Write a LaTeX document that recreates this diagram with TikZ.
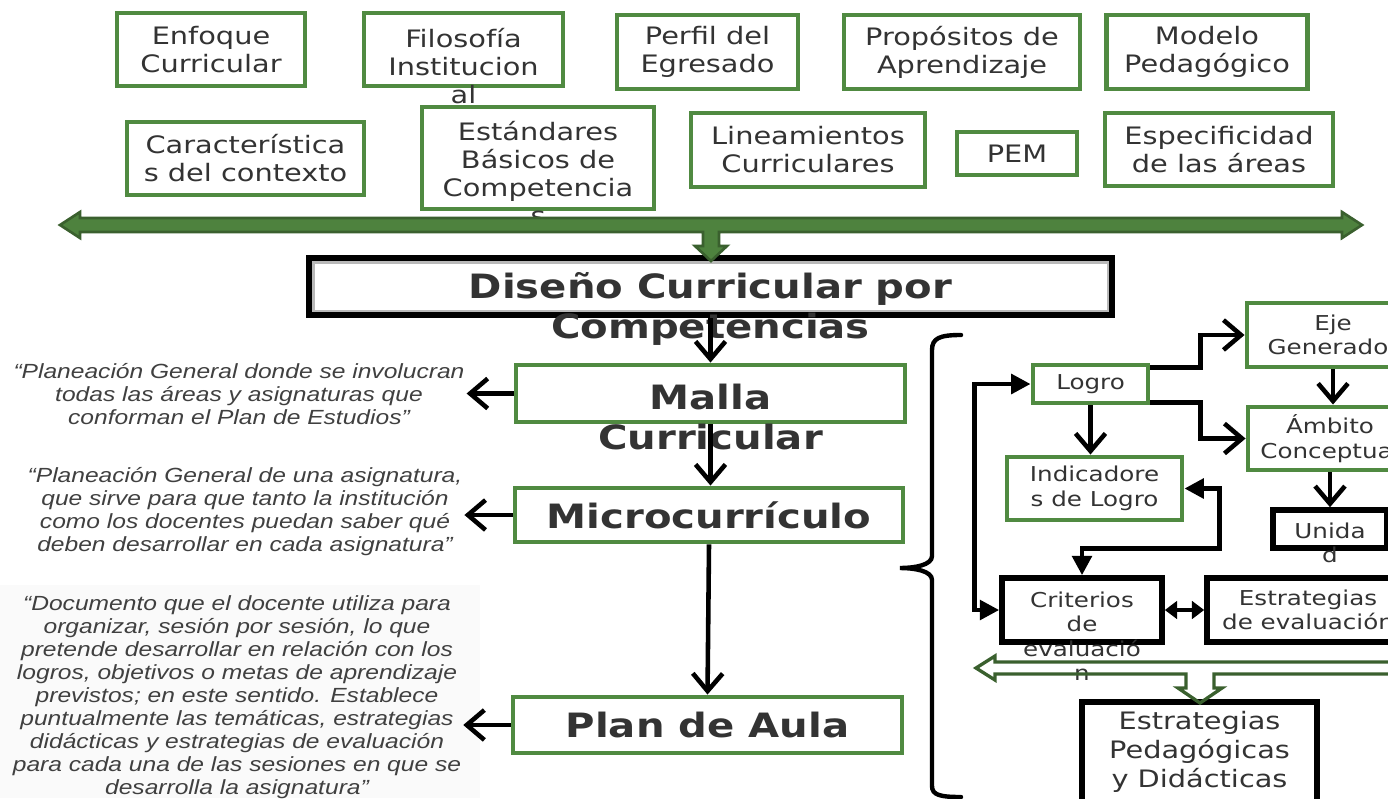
\documentclass[tikz,border=0pt]{standalone}
\usepackage{fontspec}
\setmainfont[FakeStretch=1.2]{DejaVu Sans}
\newfontfamily\quotefont[FakeStretch=1.2]{Liberation Sans}
\usepackage{xcolor}
\usetikzlibrary{arrows.meta,calc,positioning}
\definecolor{boxgreen}{RGB}{80,138,65}
\definecolor{darkgreen}{RGB}{58,96,46}
\definecolor{midgreen}{RGB}{78,130,62}
\definecolor{txtgray}{RGB}{51,51,51}
\definecolor{quotegray}{RGB}{64,64,64}

\begin{document}
\begin{tikzpicture}[x=0.02cm, y=-0.02cm,
    wh/.style 2 args={minimum width=#1*0.02cm, minimum height=#2*0.02cm},
    midfont/.style={font=\fontsize{13.66pt}{15.93pt}\selectfont},
    smallfont/.style={font=\fontsize{11.66pt}{13.94pt}\selectfont},
    bigfont/.style={font=\bfseries\fontsize{19.06pt}{22.76pt}\selectfont},
    gbox/.style={draw=boxgreen, line width=2.8pt, fill=white, inner sep=0pt, text=txtgray, align=center, midfont},
    kbox/.style={draw=black, line width=3.2pt, fill=white, inner sep=0pt, text=txtgray, align=center, midfont},
    btxt/.style={text=txtgray, align=center, inner sep=0pt, midfont},
    stxt/.style={text=txtgray, align=center, inner sep=0pt, smallfont},
    bigtxt/.style={text=txtgray, align=center, inner sep=0pt, bigfont},
    quote/.style={text=quotegray, align=center, inner sep=1pt, font=\quotefont\itshape\fontsize{11.66pt}{13.09pt}\selectfont},
    varrow/.style={line width=2.6pt, -{Straight Barb[length=10pt,width=17pt]}},
    fboth/.style={line width=2.6pt, {Triangle[length=11pt,width=11pt]}-{Triangle[length=11pt,width=11pt]}},
    fsmall/.style={line width=2.6pt, {Triangle[length=7pt,width=10pt]}-{Triangle[length=7pt,width=10pt]}},
    bigarrow/.style={draw=darkgreen, fill=midgreen, line width=1.5pt, line join=miter},
    hollow/.style={draw=darkgreen, line width=1.9pt, line join=miter},
    brace/.style={line width=2.5pt, line cap=round}]

    \useasboundingbox (0,0) rectangle (1388,798);
    \clip (0,0) rectangle (1388,798);
    \fill[black!2] (0,585) rectangle (480,798); % quote background

    % top row
    \node[gbox, wh={188}{73}] (enfoque) at (211,49.5) {Enfoque\\Curricular};
    \node[gbox, wh={199}{73}] (filosofia) at (463.5,49.5) {};
    \node[btxt] (filosofia-t) at (463.5,66) {Filosofía\\Institucion\\al};
    \node[gbox, wh={181}{74}] (perfil) at (707.5,52) {Perfil del\\Egresado};
    \node[gbox, wh={236}{74}] (propositos) at (962,52) {Propósitos de\\Aprendizaje};
    \node[gbox, wh={201}{74}] (modelo) at (1207,52) {Modelo\\Pedagógico};

    % second row
    \node[gbox, wh={237}{73}] (contexto) at (245.5,158.5) {Característica\\s del contexto};
    \node[gbox, wh={232}{102}] (estandares) at (538,158) {};
    \node[btxt] (estandares-t) at (538,173.5) {Estándares\\Básicos de\\Competencia\\s};
    \node[gbox, wh={234}{74}] (lineamientos) at (808,150) {Lineamientos\\Curriculares};
    \node[gbox, wh={120}{43}] (pem) at (1017,153.5) {PEM};
    \node[gbox, wh={228}{73}] (especificidad) at (1219,149.5) {Especificidad\\de las áreas};

    % main column
    \node[kbox, wh={803}{57}] (diseno) at (710.5,286.5) {};
    \draw[gray!55, line width=1.5pt] ($(diseno.south west)+(7,-7)$) rectangle ($(diseno.north east)+(-7,7)$);
    \node[bigtxt] (diseno-t) at (710.5,309) {Diseño Curricular por\\Competencias};
    \node[gbox, wh={389}{57}] (malla) at (710.5,393.5) {};
    \node[bigtxt] (malla-t) at (710.5,417) {Malla\\Curricular};
    \node[gbox, bigfont, wh={388}{54}] (micro) at (709,515) {Microcurrículo};
    \node[gbox, bigfont, wh={389}{56}] (plan) at (707.5,725) {Plan de Aula};

    % quotes
    \node[quote] (q1) at (239,394) {“Planeación General donde se involucran\\todas las áreas y asignaturas que\\conforman el Plan de Estudios”};
    \node[quote] (q2) at (245,511.5) {“Planeación General de una asignatura,\\que sirve para que tanto la institución\\como los docentes puedan saber qué\\deben desarrollar en cada asignatura”};
    \node[quote] (q3) at (237,697) {“Documento que el docente utiliza para\\organizar, sesión por sesión, lo que\\pretende desarrollar en relación con los\\logros, objetivos o metas de aprendizaje\\previstos; en este sentido. Establece\\puntualmente las temáticas, estrategias\\didácticas y estrategias de evaluación\\para cada una de las sesiones en que se\\desarrolla la asignatura”};

    % right part
    \node[gbox, smallfont, wh={115}{38}] (logro) at (1090.5,384) {Logro};
    \node[gbox, smallfont, wh={172}{64}] (eje) at (1333,335) {Eje\\Generador};
    \node[gbox, smallfont, wh={164}{63}] (ambito) at (1330,438.5) {Ámbito\\Conceptual};
    \node[gbox, smallfont, wh={175}{63}] (indicadores) at (1094.5,488.5) {Indicadore\\s de Logro};
    \node[kbox, wh={114}{38}] (unidad) at (1330,529) {};
    \node[stxt] (unidad-t) at (1330,543) {Unida\\d};
    \node[kbox, wh={160}{64}] (criterios) at (1082,610) {};
    \node[stxt] (criterios-t) at (1082,636) {Criterios\\de\\evaluació\\n};
    \node[kbox, smallfont, wh={202}{64}] (estreval) at (1308,610) {Estrategias\\de evaluación};
    \node[kbox, wh={235}{128}] (estrped) at (1199.5,766) {};
    \node[btxt, font=\fontsize{13.66pt}{16.5pt}\selectfont] (estrped-t) at (1199.5,752) {Estrategias\\Pedagógicas\\y Didácticas};

    % big green arrow
    \filldraw[bigarrow] (60,225) -- (80,212) -- (80,218) -- (1342,218) -- (1342,212) -- (1362,225) -- (1342,238) -- (1342,232) -- (719,232) -- (719,246) -- (727,246) -- (711,261) -- (695,246) -- (703,246) -- (703,232) -- (80,232) -- (80,238) -- cycle;

    % main column arrows
    \draw[varrow] (diseno.south) -- (malla.north);
    \draw[varrow] (malla.south) -- (malla.south |- micro.north);
    \draw[varrow] (micro.south) -- (plan.north);
    \draw[varrow] (malla.west) -- (q1.east |- malla.west);
    \draw[varrow] (micro.west) -- (q2.east |- micro.west);
    \draw[varrow] (plan.west) -- (q3.east |- plan.west);

    % brace
    \draw[brace] (961,335) .. controls (940,335) and (932,338) .. (932,350) -- (932,556) .. controls (932,565) and (915,568) .. (900,568) .. controls (915,568) and (932,571) .. (932,580) -- (932,786) .. controls (932,795) and (940,797) .. (961,797);

    % right arrows
    \draw[varrow] ($(logro.north east)+(0,5)$) -- ++(50,0) |- (eje.west);
    \draw[varrow] ($(logro.south east)+(0,-3)$) -- ++(50,0) |- (ambito.west);
    \draw[varrow] (eje.south) -- (eje.south |- ambito.north);
    \draw[varrow] (ambito.south) -- (unidad.north);
    \draw[varrow] (logro.south) -- (logro.south |- indicadores.north);
    \draw[fboth] (indicadores.east) -- ++(35,0) -- ++(0,60) -| (criterios.north);
    \draw[fboth] (logro.west) -- ++(-56,0) |- (criterios.west);
    \draw[fsmall] (criterios.east) -- (estreval.west);

    % hollow green arrow
    \draw[hollow] (976,668) -- (995,656) -- (995,662) -- (1400,662) -- (1400,674) -- (1214,674) -- (1214,688) -- (1222,688) -- (1200,703) -- (1178,688) -- (1186,688) -- (1186,674) -- (995,674) -- (995,680) -- cycle;
\end{tikzpicture}
\end{document}
